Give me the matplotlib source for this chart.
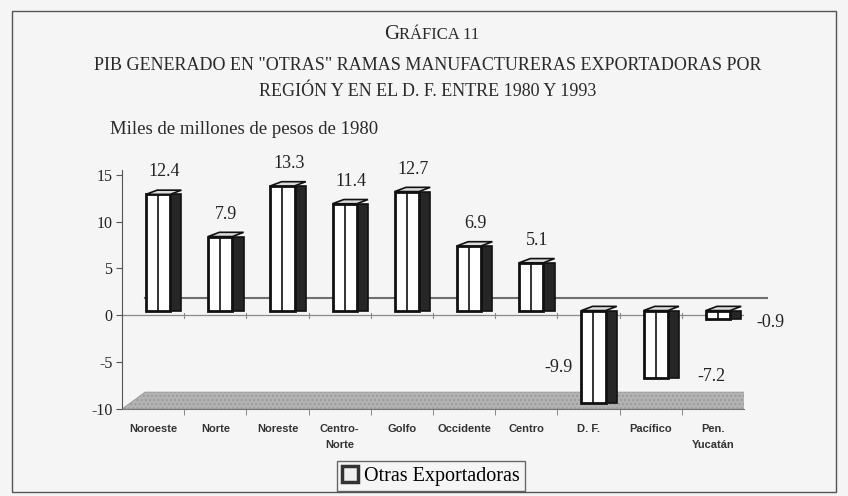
import matplotlib
matplotlib.use("Agg")
import matplotlib.pyplot as plt
from matplotlib.patches import Patch, Rectangle, Polygon
from matplotlib.text import Annotation
import numpy as np

categories = ["Noroeste", "Norte", "Noreste", "Centro-\nNorte", "Golfo",
              "Occidente", "Centro", "D. F.", "Pacífico", "Pen.\nYucatán"]
values = [12.4, 7.9, 13.3, 11.4, 12.7, 6.9, 5.1, -9.9, -7.2, -0.9]
yticks = [-10, -5, 0, 5, 10, 15]
series_name = "Otras Exportadoras"

# style offsets for value labels (Excel 3D placement)
label_dx = [0.18] * 7 + [-0.48, 0.98, 0.93]
label_dy = [2.9] * 7 + [4.3, 0.7, 0.15]

W, H = 848, 496
fig = plt.figure(figsize=(W / 100, H / 100), dpi=100)
fig.patch.set_facecolor("#f5f5f5")

serif = ["Liberation Serif", "DejaVu Serif"]
sans = ["Liberation Sans", "DejaVu Sans"]
tc = "#2a2a2a"

# outer frame
fig.add_artist(Rectangle((12 / W, 1 - 492 / H), (836 - 12) / W, (492 - 11) / H,
                         transform=fig.transFigure, fill=False,
                         edgecolor="#555555", lw=1.0))

# titles ("GRÁFICA 11" in small caps)
t1 = fig.text(428 / W - 0.052, 1 - 39 / H, "G", fontsize=15, family=serif,
              color=tc, va="baseline", ha="left")
fig.add_artist(Annotation("RÁFICA 11", xy=(1, 0), xycoords=t1, xytext=(0, 0.6),
                          textcoords="offset points", fontsize=12,
                          family=serif, color=tc, va="bottom", ha="left",
                          annotation_clip=False))
fig.text(428 / W, 1 - 65 / H,
         'PIB GENERADO EN "OTRAS" RAMAS MANUFACTURERAS EXPORTADORAS POR',
         fontsize=13, family=serif, color=tc, ha="center", va="center")
fig.text(428 / W, 1 - 92 / H, "REGIÓN Y EN EL D. F. ENTRE 1980 Y 1993",
         fontsize=13, family=serif, color=tc, ha="center", va="center")
fig.text(110 / W, 1 - 130 / H, "Miles de millones de pesos de 1980",
         fontsize=13.5, family=serif, color=tc, ha="left", va="center")

# axes
left, right = 122 / W, 744 / W
bottom, top = 1 - 409 / H, 1 - 170 / H
ax = fig.add_axes([left, bottom, right - left, top - bottom])
ax.set_facecolor("none")
ax.set_xlim(-0.5, 9.5)
ax.set_ylim(-10, 15.5)

x = np.arange(len(categories))
vals = np.array(values)

# 3D depth offsets (style)
back_dx, back_dy = 0.37, 1.8
bar_dx, bar_dy = 0.08, 0.5
front_w, side_w = 0.39, 0.18

# floor
floor = Polygon([(-0.5, -10), (9.5, -10), (9.5 + back_dx, -10 + back_dy),
                 (-0.5 + back_dx, -10 + back_dy)], closed=True,
                facecolor="#b3b3b3", edgecolor="#9a9a9a", hatch="....",
                lw=0.6, zorder=1)
ax.add_patch(floor)

# back zero line and front zero line
ax.plot([-0.5 + back_dx, 9.5 + back_dx], [back_dy, back_dy], color="#6f6f6f",
        lw=1.5, zorder=1, clip_on=False)
ax.plot([-0.5, 9.5], [0, 0], color="#8a8a8a", lw=0.9, zorder=1)
for b in np.arange(0.5, 9.5, 1.0):
    ax.plot([b, b], [-0.25, 0.25], color="#8a8a8a", lw=0.8, zorder=1)

# bars
xf = x + bar_dx
ax.bar(xf + front_w / 2 + side_w / 2, vals, bottom=bar_dy, width=side_w,
       color="#262626", edgecolor="#111111", lw=1.2, zorder=3)
ax.bar(xf, vals, bottom=bar_dy, width=front_w, color="white",
       edgecolor="#111111", lw=2.0, zorder=4)
ax.vlines(xf, bar_dy, vals + bar_dy, color="#111111", lw=1.2, zorder=5)
# top faces
for xi, v in zip(xf, vals):
    t = max(v, 0) + bar_dy
    xl = xi - front_w / 2
    ax.add_patch(Polygon([(xl, t), (xl + front_w, t),
                          (xl + front_w + side_w, t + 0.45),
                          (xl + side_w, t + 0.45)], closed=True,
                         facecolor="#dddddd", edgecolor="#111111", lw=1.2,
                         zorder=4))

# value labels
for xi, v, dx, dy in zip(x, vals, label_dx, label_dy):
    ax.text(xi + dx, v + dy, f"{v:.1f}", ha="center", va="center",
            fontsize=13, family=serif, color="#222222")

# axis styling
for s in ["top", "right"]:
    ax.spines[s].set_visible(False)
ax.spines["left"].set_color("#555555")
ax.spines["bottom"].set_color("#777777")
ax.set_yticks(yticks)
ax.set_yticklabels([str(t) for t in yticks], family=serif, fontsize=11.5,
                   color="#222222")
ax.tick_params(axis="y", length=4, color="#555555", pad=3)
ax.set_xticks(x)
ax.set_xticklabels(categories, family=sans, fontsize=8, fontweight="bold",
                   color="#333333", linespacing=1.7)
ax.tick_params(axis="x", length=0, pad=11)
ax.set_xticks(np.arange(0.5, 9.5, 1.0), minor=True)
ax.tick_params(axis="x", which="minor", length=4, color="#777777")

# legend
handle = Patch(facecolor="#f0f0f0", edgecolor="#333333", lw=2.5)
leg = fig.legend([handle], [series_name], loc="center",
                 bbox_to_anchor=(431 / W, 1 - 476 / H), frameon=True,
                 fancybox=False, edgecolor="#444444", facecolor="none",
                 prop={"family": serif, "size": 14.5}, handlelength=0.8,
                 handleheight=0.8, handletextpad=0.3, borderpad=0.25)
leg.get_frame().set_linewidth(1.0)

fig.savefig("out.png", dpi=100, facecolor=fig.get_facecolor())
